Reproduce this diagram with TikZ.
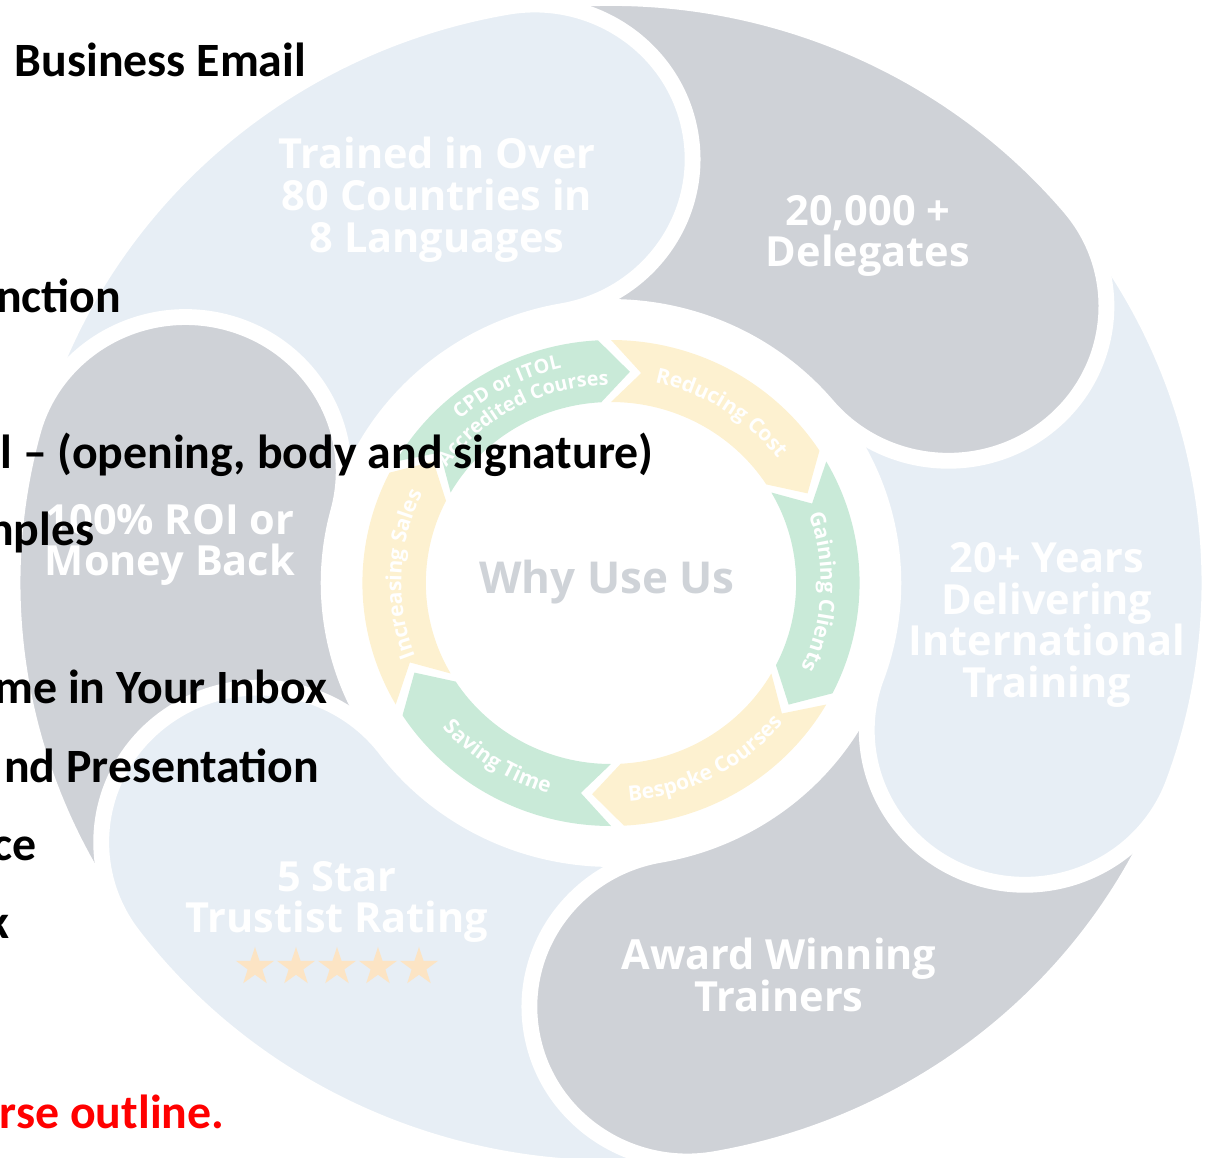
\documentclass[tikz,border=0pt]{standalone}
\usepackage{fontspec}
\setmainfont{Open Sans}
\newfontfamily\listfont{Carlito}
\usetikzlibrary{decorations.text}
\usetikzlibrary{shapes.geometric}

\definecolor{petallight}{HTML}{E7EEF5}
\definecolor{petalgray}{HTML}{CFD2D7}
\definecolor{chevgreen}{HTML}{C9EAD8}
\definecolor{chevyellow}{HTML}{FDF1D0}
\definecolor{starpeach}{HTML}{FCE4C4}
\definecolor{hubgray}{HTML}{CFD3D8}

\newcommand{\chevfont}{\fontsize{6}{7}\selectfont\bfseries\color{white}}
\newcommand{\cpdfont}{\fontsize{5.6}{6}\selectfont\bfseries\color{white}}

\tikzset{
  petal/.style={draw=white, line width=4.5pt, line join=round},
  petaltext/.style={text=white, font=\fontsize{11.8}{11.9}\selectfont\bfseries, align=center, inner sep=0pt},
  listitem/.style={font=\listfont\fontsize{13.6}{16}\selectfont\bfseries, inner sep=0pt, anchor=base east},
  chevtext/.style={decorate, decoration={text along path, text align=center, text={#1}}},
  goldstar/.style={star, star points=5, star point ratio=2.6, fill=starpeach, minimum size=11.4pt, inner sep=0pt}
}

\begin{document}
\begin{tikzpicture}[x=0.01cm, y=0.01cm]
\useasboundingbox (-611,-574) rectangle (598,583);

\begin{scope}[xscale=1.023]
% petals, each head laid over the next tail
\foreach \a/\b/\c in {-20/40/petallight, 40/100/petalgray, 100/165/petallight, 165/217/petalgray, 217/280/petallight, 280/340/petalgray}
  \draw[petal, fill=\c] (\b:585) arc[start angle=\b, end angle=\a, radius=585]
    arc[start angle=\a, end angle=\a-180, radius=154.5]
    arc[start angle=\a, end angle=\b, radius=276] -- cycle;
\begin{scope}
\clip (-700,0) rectangle (700,-700);
\draw[petal, fill=petallight] (40:585) arc[start angle=40, end angle=-20, radius=585]
    arc[start angle=-20, end angle=-200, radius=154.5]
    arc[start angle=-20, end angle=40, radius=276] -- cycle;
\end{scope}

% ring of chevrons
\foreach \s/\c in {150/chevgreen, 90/chevyellow, 30/chevgreen, -30/chevyellow, -90/chevgreen, -150/chevyellow}
  \fill[\c] (\s:243) arc[start angle=\s, end angle=\s-57, radius=243] -- (\s-65:212)
    -- (\s-57:181) arc[start angle=\s-57, end angle=\s, radius=181] -- (\s-8:212) -- cycle;

\path[chevtext={|\cpdfont|CPD or ITOL}] (150:220) arc[start angle=150, end angle=85, radius=220];
\path[chevtext={|\cpdfont|Accredited Courses}] (150:198) arc[start angle=150, end angle=85, radius=198];
\path[chevtext={|\chevfont|Reducing Cost}] (86:205) arc[start angle=86, end angle=29, radius=205];
\path[chevtext={|\chevfont|Gaining Clients}] (26:205) arc[start angle=26, end angle=-31, radius=205];
\path[chevtext={|\chevfont|Bespoke Courses}] (-91:219) arc[start angle=-91, end angle=-34, radius=219];
\path[chevtext={|\chevfont|Saving Time}] (-151:219) arc[start angle=-151, end angle=-94, radius=219];
\path[chevtext={|\chevfont|Increasing Sales}] (206:205) arc[start angle=206, end angle=149, radius=205];
\end{scope}

\node[font=\fontsize{12.5}{13}\selectfont\bfseries, text=hubgray] (whyus) at (-4,1) {Why Use Us};

\node[petaltext] (trained) at (-174,383) {Trained in Over\\80 Countries in\\8 Languages};
\node[petaltext] (delegates) at (257,347) {20,000 +\\Delegates};
\node[petaltext] (years) at (436,-42) {20+ Years\\Delivering\\International\\Training};
\node[petaltext] (award) at (168,-392) {Award Winning\\Trainers};
\node[petaltext] (rating) at (-274,-319) {5 Star\\Trustist Rating};
\foreach \i in {0,...,4}
  \node[goldstar] (star\i) at (-356+41*\i,-384) {};
\node[petaltext] (roi) at (-441,38) {100\% ROI or\\Money Back};

\node[listitem, anchor=base west] (email) at (-597,506) {Business Email};
\node[listitem] (nction) at (-489,271) {nction};
\node[listitem] (opening) at (43,115) {l – (opening, body and signature)};
\node[listitem] (nples) at (-516,38) {nples};
\node[listitem] (inbox) at (-283,-120) {me in Your Inbox};
\node[listitem] (presentation) at (-291,-199) {nd Presentation};
\node[listitem] (ce) at (-574,-277) {ce};
\node[listitem] (k) at (-601,-355) {k};
\node[listitem, text=red] (outline) at (-386,-545) {rse outline.};
\end{tikzpicture}
\end{document}
